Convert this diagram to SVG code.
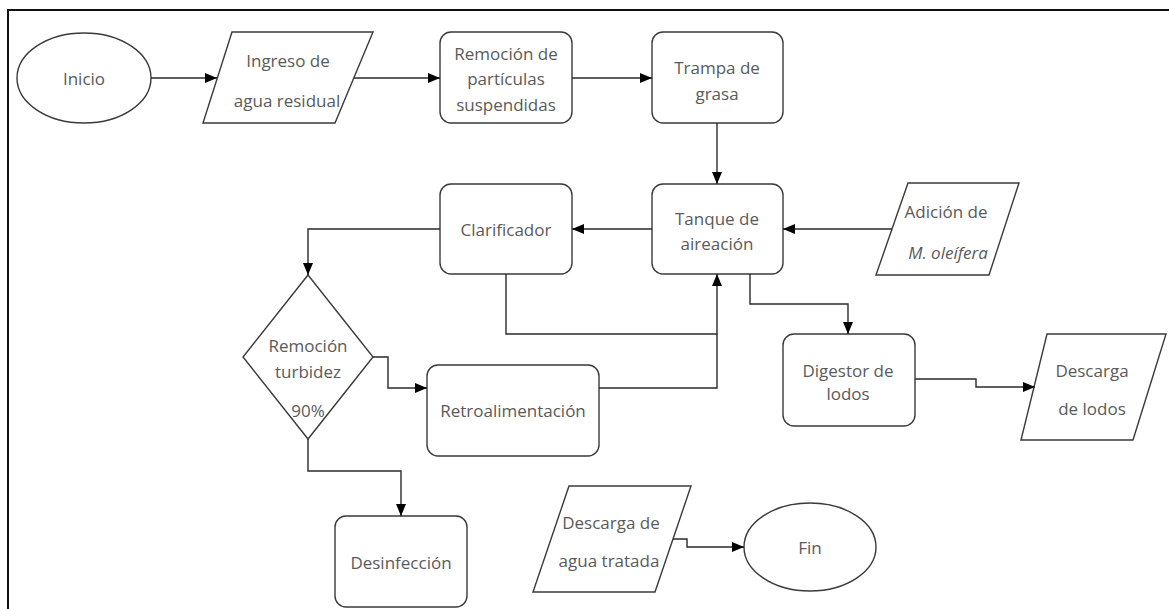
<svg xmlns="http://www.w3.org/2000/svg" width="1169" height="609" viewBox="0 0 1169 609">
<style>
.s{fill:#fff;stroke:#3a3a3a;stroke-width:1.4}
.t{font-family:"Open Sans","Liberation Sans",sans-serif;font-size:17px;fill:#5a5a5a;text-anchor:middle;dominant-baseline:central}
.c{fill:none;stroke:#2a2a2a;stroke-width:1.4}
</style>
<defs>
<marker id="ah" markerUnits="userSpaceOnUse" markerWidth="13" markerHeight="11" refX="12" refY="5" orient="auto">
<path d="M0,0 L12,5 L0,10 z" fill="#000"/>
</marker>
</defs>
<rect width="1169" height="609" fill="#fff"/>
<path d="M8,609 V10 H1169" fill="none" stroke="#111" stroke-width="2"/>

<g id="inicio"><ellipse class="s" cx="84" cy="78" rx="67" ry="45"/><text class="t" x="84" y="78">Inicio</text></g>
<g id="ingreso"><polygon class="s" points="232,32 373,32 335,123 203,123"/><text class="t" x="288" y="60">Ingreso de</text><text class="t" x="287" y="100">agua residual</text></g>
<g id="remocion"><rect class="s" x="440" y="32" width="132" height="91" rx="11"/><text class="t" x="506" y="53">Remoción de</text><text class="t" x="506" y="78">partículas</text><text class="t" x="506" y="104">suspendidas</text></g>
<g id="trampa"><rect class="s" x="652" y="32" width="131" height="91" rx="11"/><text class="t" x="717" y="67">Trampa de</text><text class="t" x="717" y="93">grasa</text></g>
<g id="clarificador"><rect class="s" x="440" y="184" width="132" height="90" rx="11"/><text class="t" x="506" y="229">Clarificador</text></g>
<g id="tanque"><rect class="s" x="652" y="184" width="131" height="90" rx="11"/><text class="t" x="717" y="218">Tanque de</text><text class="t" x="717" y="243">aireación</text></g>
<g id="adicion"><polygon class="s" points="908,183 1019,183 989,275 876,275"/><text class="t" x="946" y="211">Adición de</text><text class="t" x="948" y="252" font-style="italic">M. oleífera</text></g>
<g id="turbidez"><polygon class="s" points="308,275 373,357 308,439 243,357"/><text class="t" x="308" y="345">Remoción</text><text class="t" x="308" y="371">turbidez</text><text class="t" x="308" y="410">90%</text></g>
<g id="retro"><rect class="s" x="427" y="365" width="172" height="91" rx="11"/><text class="t" x="513" y="410">Retroalimentación</text></g>
<g id="digestor"><rect class="s" x="783" y="334" width="132" height="92" rx="11"/><text class="t" x="848" y="370">Digestor de</text><text class="t" x="848" y="393">lodos</text></g>
<g id="descarga-lodos"><polygon class="s" points="1047,334 1166,334 1133,440 1021,440"/><text class="t" x="1092" y="370">Descarga</text><text class="t" x="1092" y="408">de lodos</text></g>
<g id="desinfeccion"><rect class="s" x="335" y="516" width="132" height="91" rx="11"/><text class="t" x="401" y="562">Desinfección</text></g>
<g id="descarga-agua"><polygon class="s" points="569,486 691,486 655,592 533,592"/><text class="t" x="611" y="522">Descarga de</text><text class="t" x="609" y="560">agua tratada</text></g>
<g id="fin"><ellipse class="s" cx="810" cy="547" rx="66" ry="44"/><text class="t" x="810" y="547">Fin</text></g>

<g id="connectors">
<path class="c" d="M151,78 H217" marker-end="url(#ah)"/>
<path class="c" d="M354,78 H440" marker-end="url(#ah)"/>
<path class="c" d="M572,78 H652" marker-end="url(#ah)"/>
<path class="c" d="M717,123 V184" marker-end="url(#ah)"/>
<path class="c" d="M892,229 H783" marker-end="url(#ah)"/>
<path class="c" d="M652,229 H572" marker-end="url(#ah)"/>
<path class="c" d="M440,229 H308 V275" marker-end="url(#ah)"/>
<path class="c" d="M506,274 V334 H717 V274" marker-end="url(#ah)"/>
<path class="c" d="M373,357 H388 V388 H427" marker-end="url(#ah)"/>
<path class="c" d="M599,388 H717 V334"/>
<path class="c" d="M750,274 V304 H848 V334" marker-end="url(#ah)"/>
<path class="c" d="M915,379 H976 V387 H1035" marker-end="url(#ah)"/>
<path class="c" d="M308,439 V471 H401 V516" marker-end="url(#ah)"/>
<path class="c" d="M673,539 H687 V547 H744" marker-end="url(#ah)"/>
</g>
</svg>
